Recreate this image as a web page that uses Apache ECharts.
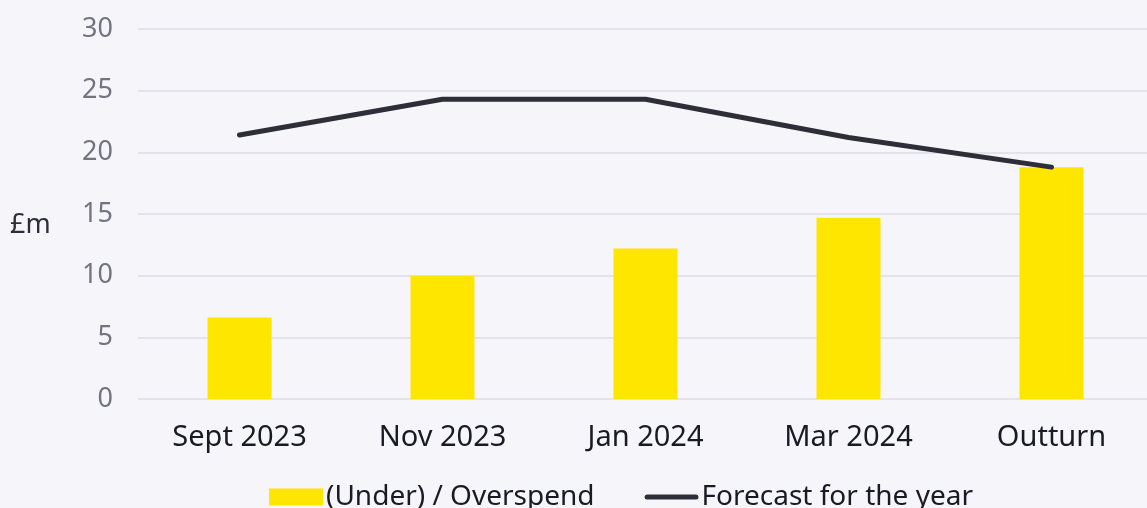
<!DOCTYPE html>
<html>
<head>
<meta charset="utf-8">
<script src="https://cdn.jsdelivr.net/npm/echarts@6/dist/echarts.min.js"></script>
<style>
html,body{margin:0;padding:0;background:#f6f6fa;}
#chart{width:1147px;height:508px;}
</style>
</head>
<body>
<div id="chart"></div>
<script>
const categories = ['Sept 2023', 'Nov 2023', 'Jan 2024', 'Mar 2024', 'Outturn'];
const overspend = [6.6, 10.0, 12.2, 14.7, 18.8];
const forecast = [21.4, 24.3, 24.3, 21.2, 18.8];
const barName = '(Under) / Overspend';
const lineName = 'Forecast for the year';
const unitLabel = '£m';

const chart = echarts.init(document.getElementById('chart'), null, {renderer: 'canvas'});
const font = 'Noto Sans';
chart.setOption({
  backgroundColor: '#f6f6fa',
  animation: false,
  title: {
    text: unitLabel,
    left: 10,
    top: 212,
    padding: 0,
    textStyle: {fontFamily: font, fontSize: 27, fontWeight: 'normal', color: '#2e2e38'}
  },
  grid: {left: 138, width: 1015, top: 29, bottom: 109, containLabel: false, outerBoundsMode: 'none'},
  legend: {
    left: 269,
    top: 482,
    padding: 0,
    itemGap: 50,
    itemWidth: 54,
    itemHeight: 17,
    symbolKeepAspect: false,
    textStyle: {fontFamily: font, fontSize: 28, lineHeight: 30, color: '#1a1a24', padding: [0, 0, 0, -2]},
    data: [
      {name: barName, icon: 'rect'},
      {name: lineName, icon: 'path://M0,0 M2,6 L55,6 A2.5,2.5 0 0 1 55,11 L2,11 A2.5,2.5 0 0 1 2,6 Z M57,17',
       itemStyle: {color: '#2e2e38', borderWidth: 0}}
    ]
  },
  xAxis: {
    type: 'category',
    data: categories,
    axisLine: {show: false},
    axisTick: {show: false},
    axisLabel: {fontFamily: font, fontSize: 29, color: '#1a1a24', margin: 24}
  },
  yAxis: {
    type: 'value',
    min: 0,
    max: 30,
    interval: 5,
    axisLine: {show: false},
    axisTick: {show: false},
    splitLine: {lineStyle: {color: '#dedde4', width: 1.5}},
    axisLabel: {fontFamily: font, fontSize: 27, color: '#747480', margin: 25}
  },
  series: [
    {
      name: barName,
      type: 'bar',
      data: overspend,
      barWidth: 64,
      itemStyle: {color: '#ffe600'}
    },
    {
      name: lineName,
      type: 'line',
      data: forecast,
      symbol: 'none',
      lineStyle: {color: '#2e2e38', width: 5, cap: 'round', join: 'round'},
      itemStyle: {color: '#2e2e38'}
    }
  ]
});
</script>
</body>
</html>
